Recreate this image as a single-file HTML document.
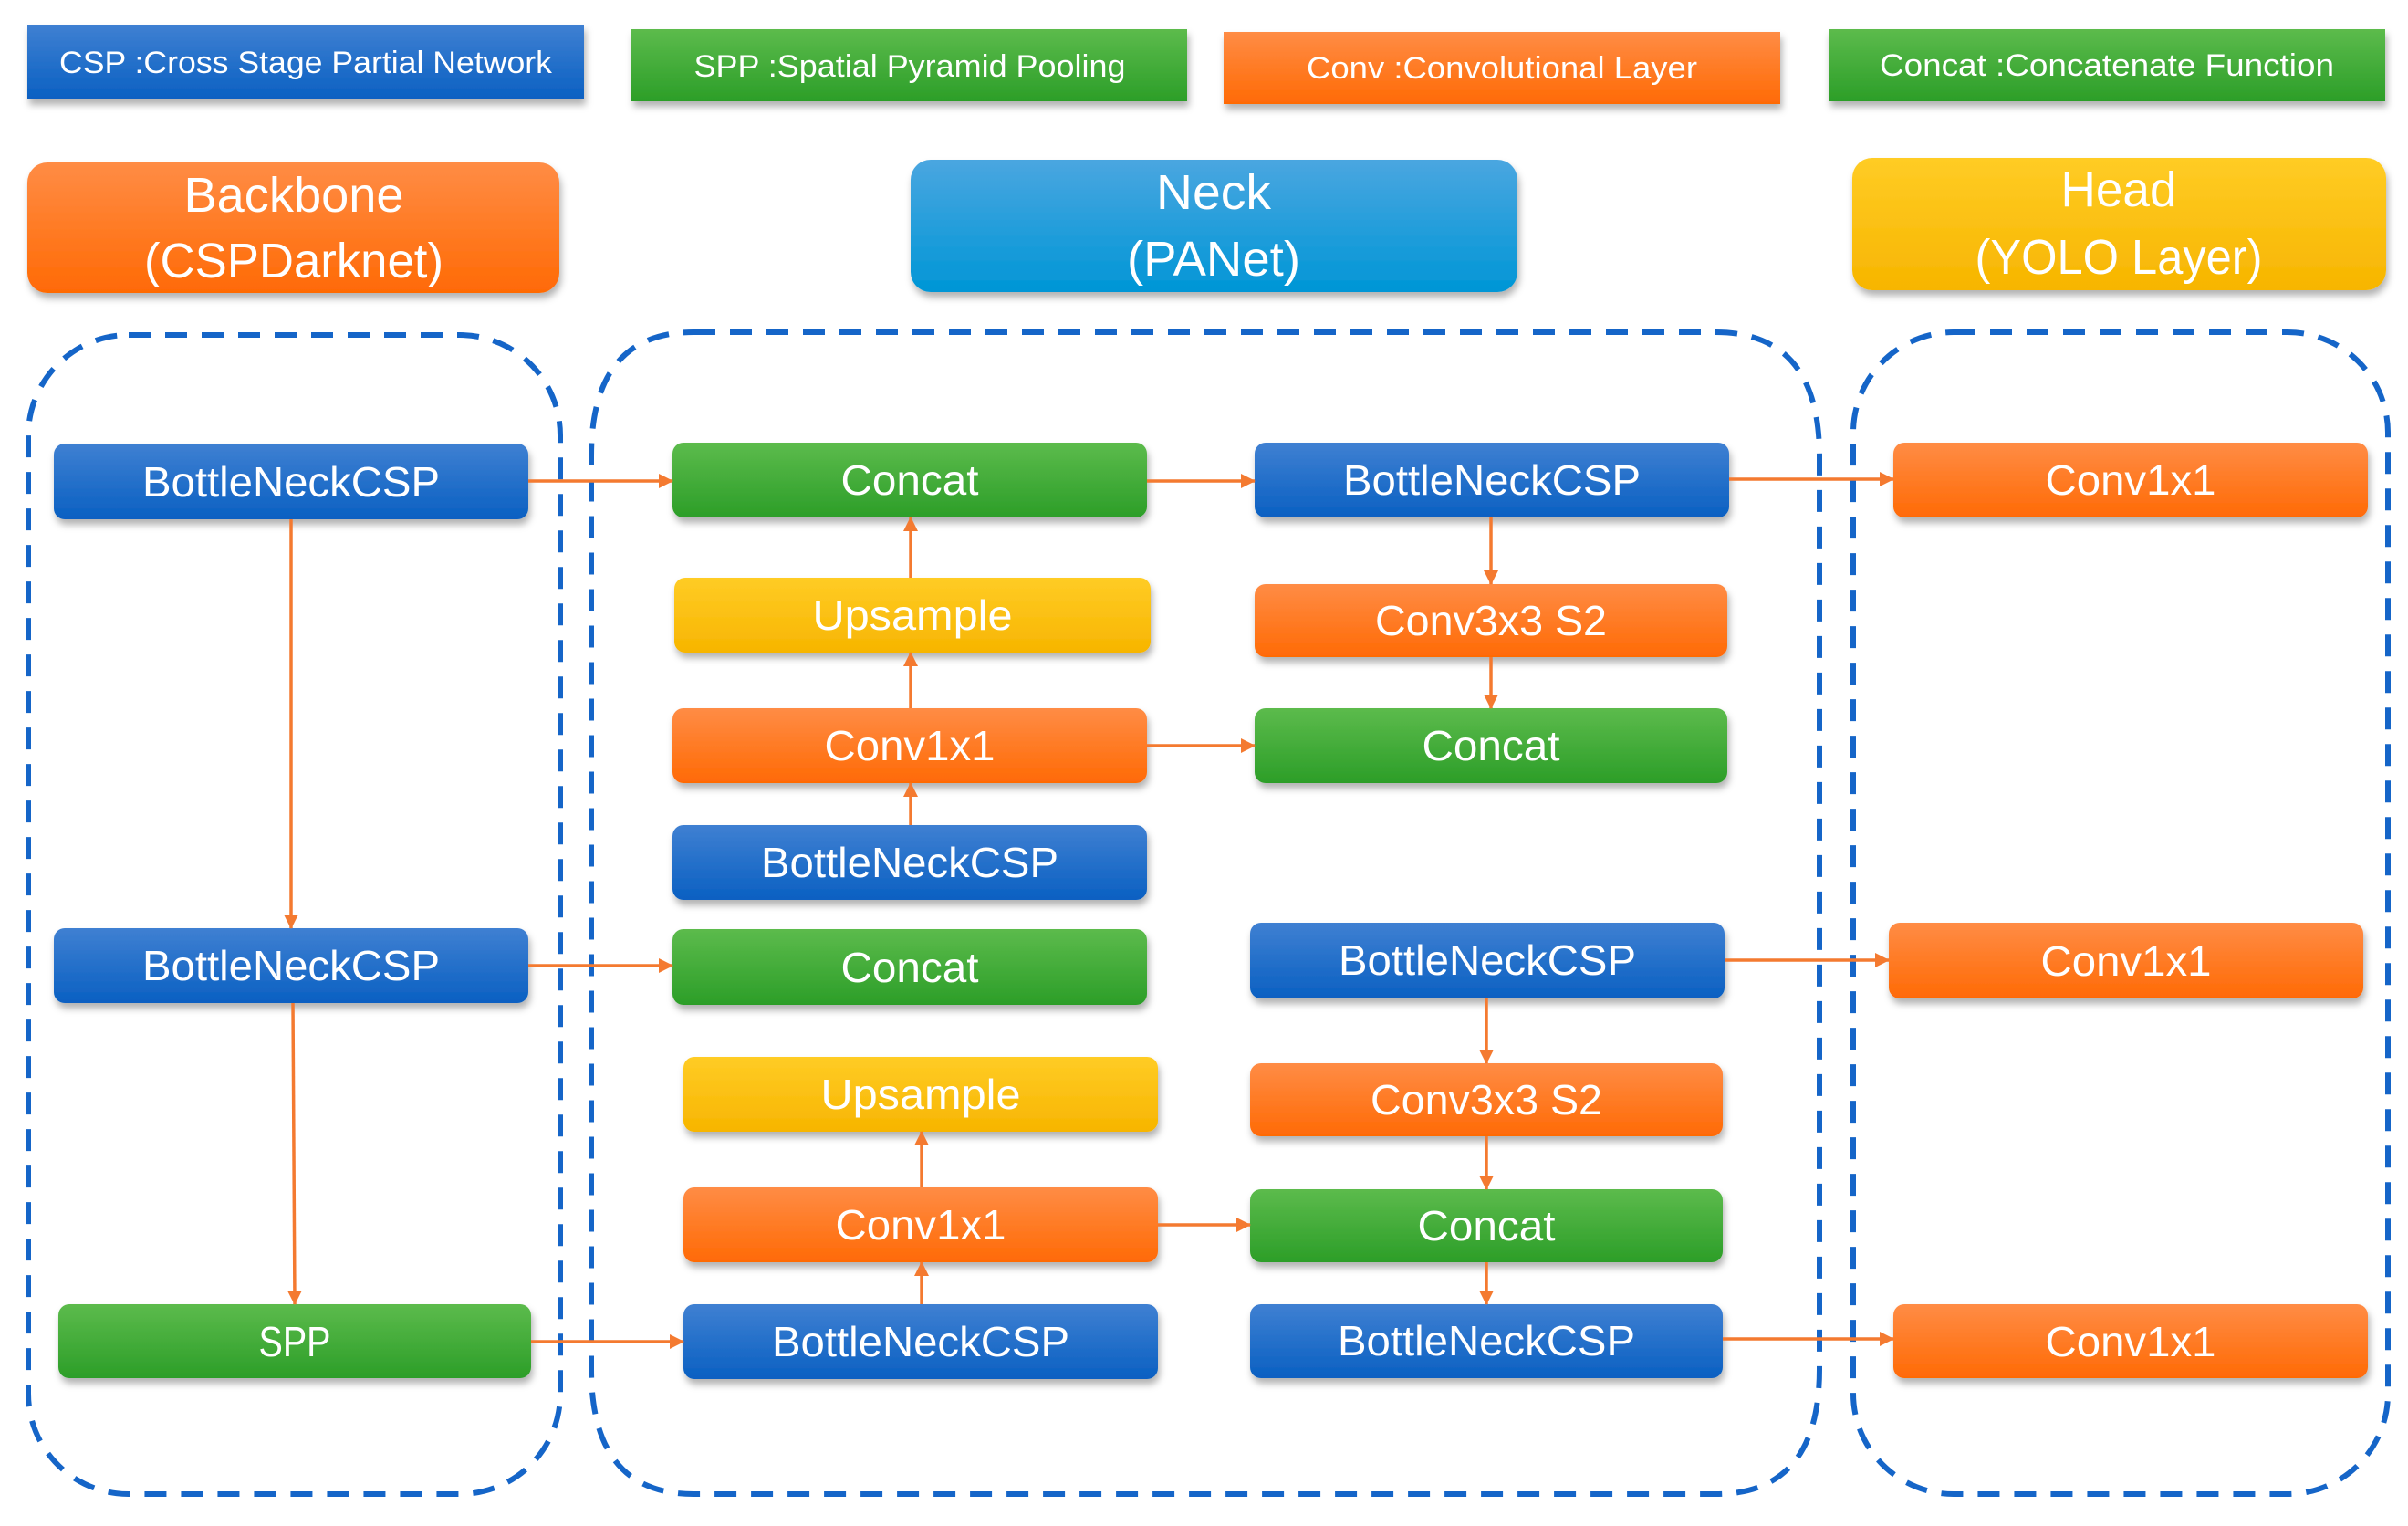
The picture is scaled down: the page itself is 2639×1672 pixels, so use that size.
<!DOCTYPE html>
<html><head><meta charset="utf-8"><style>
html,body{margin:0;padding:0;background:#fff;}
svg{display:block;}
text{font-family:"Liberation Sans",sans-serif;fill:#fff;text-anchor:middle;}
</style></head><body>
<svg width="2639" height="1672" viewBox="0 0 2639 1672" xmlns="http://www.w3.org/2000/svg">
<defs>
<linearGradient id="gb" x1="0" y1="0" x2="0" y2="1"><stop offset="0" stop-color="#3f80d2"/><stop offset="1" stop-color="#0a60c2"/></linearGradient>
<linearGradient id="gg" x1="0" y1="0" x2="0" y2="1"><stop offset="0" stop-color="#5cbb4c"/><stop offset="1" stop-color="#2c9e28"/></linearGradient>
<linearGradient id="go" x1="0" y1="0" x2="0" y2="1"><stop offset="0" stop-color="#ff8c45"/><stop offset="1" stop-color="#ff6a05"/></linearGradient>
<linearGradient id="gy" x1="0" y1="0" x2="0" y2="1"><stop offset="0" stop-color="#ffcc25"/><stop offset="1" stop-color="#f7b500"/></linearGradient>
<linearGradient id="gn" x1="0" y1="0" x2="0" y2="1"><stop offset="0" stop-color="#4aa6e0"/><stop offset="1" stop-color="#0096d6"/></linearGradient>
<filter id="sh" x="-5%" y="-20%" width="110%" height="150%"><feDropShadow dx="2" dy="6" stdDeviation="4" flood-color="#000" flood-opacity="0.3"/></filter>
<marker id="ar" markerWidth="10" markerHeight="10" refX="9" refY="5" orient="auto" markerUnits="userSpaceOnUse"><path d="M0,0 L10,5 L0,10 z" fill="#f47a30"/></marker>
<marker id="ar2" markerWidth="16" markerHeight="16" refX="15" refY="8" orient="auto" markerUnits="userSpaceOnUse"><path d="M0,0 L16,8 L0,16 z" fill="#f47a30"/></marker>
</defs>

<!-- legend -->
<g filter="url(#sh)">
<rect x="30" y="27" width="610" height="82" fill="url(#gb)"/>
<rect x="692" y="32" width="609" height="79" fill="url(#gg)"/>
<rect x="1341" y="35" width="610" height="79" fill="url(#go)"/>
<rect x="2004" y="32" width="610" height="79" fill="url(#gg)"/>
</g>
<g font-size="34">
<text x="335" y="80" textLength="540" lengthAdjust="spacingAndGlyphs">CSP :Cross Stage Partial Network</text>
<text x="997" y="84" textLength="473" lengthAdjust="spacingAndGlyphs">SPP :Spatial Pyramid Pooling</text>
<text x="1646" y="86" textLength="428" lengthAdjust="spacingAndGlyphs">Conv :Convolutional Layer</text>
<text x="2309" y="83" textLength="498" lengthAdjust="spacingAndGlyphs">Concat :Concatenate Function</text>
</g>

<!-- headers -->
<g filter="url(#sh)">
<rect x="30" y="178" width="583" height="143" rx="22" fill="url(#go)"/>
<rect x="998" y="175" width="665" height="145" rx="22" fill="url(#gn)"/>
<rect x="2030" y="173" width="585" height="145" rx="22" fill="url(#gy)"/>
</g>
<g font-size="54">
<text x="322" y="232" textLength="241" lengthAdjust="spacingAndGlyphs">Backbone</text>
<text x="322" y="304" textLength="328" lengthAdjust="spacingAndGlyphs">(CSPDarknet)</text>
<text x="1330" y="229" textLength="126" lengthAdjust="spacingAndGlyphs">Neck</text>
<text x="1330" y="302" textLength="190" lengthAdjust="spacingAndGlyphs">(PANet)</text>
<text x="2322" y="226" textLength="127" lengthAdjust="spacingAndGlyphs">Head</text>
<text x="2322" y="300" textLength="315" lengthAdjust="spacingAndGlyphs">(YOLO Layer)</text>
</g>

<!-- dashed groups -->
<g fill="none" stroke="#1565c8" stroke-width="6" stroke-dasharray="24 16">
<rect x="31" y="367" width="583" height="1270" rx="110"/>
<path d="M760,364 L1880,364 Q1994,364 1994,500 L1994,1500 Q1994,1637 1880,1637 L760,1637 Q648,1637 648,1500 L648,500 Q648,364 760,364 Z"/>
<rect x="2031" y="364" width="586" height="1273" rx="110"/>
</g>

<!-- nodes -->
<g filter="url(#sh)">
<rect x="59" y="486" width="520" height="83" rx="12" fill="url(#gb)"/>
<rect x="59" y="1017" width="520" height="82" rx="12" fill="url(#gb)"/>
<rect x="64" y="1429" width="518" height="81" rx="12" fill="url(#gg)"/>

<rect x="737" y="485" width="520" height="82" rx="12" fill="url(#gg)"/>
<rect x="739" y="633" width="522" height="82" rx="12" fill="url(#gy)"/>
<rect x="737" y="776" width="520" height="82" rx="12" fill="url(#go)"/>
<rect x="737" y="904" width="520" height="82" rx="12" fill="url(#gb)"/>
<rect x="737" y="1018" width="520" height="83" rx="12" fill="url(#gg)"/>
<rect x="749" y="1158" width="520" height="82" rx="12" fill="url(#gy)"/>
<rect x="749" y="1301" width="520" height="82" rx="12" fill="url(#go)"/>
<rect x="749" y="1429" width="520" height="82" rx="12" fill="url(#gb)"/>

<rect x="1375" y="485" width="520" height="82" rx="12" fill="url(#gb)"/>
<rect x="1375" y="640" width="518" height="80" rx="12" fill="url(#go)"/>
<rect x="1375" y="776" width="518" height="82" rx="12" fill="url(#gg)"/>
<rect x="1370" y="1011" width="520" height="83" rx="12" fill="url(#gb)"/>
<rect x="1370" y="1165" width="518" height="80" rx="12" fill="url(#go)"/>
<rect x="1370" y="1303" width="518" height="80" rx="12" fill="url(#gg)"/>
<rect x="1370" y="1429" width="518" height="81" rx="12" fill="url(#gb)"/>

<rect x="2075" y="485" width="520" height="82" rx="12" fill="url(#go)"/>
<rect x="2070" y="1011" width="520" height="83" rx="12" fill="url(#go)"/>
<rect x="2075" y="1429" width="520" height="81" rx="12" fill="url(#go)"/>
</g>

<g font-size="46">
<text x="319" y="544" textLength="326" lengthAdjust="spacingAndGlyphs">BottleNeckCSP</text>
<text x="319" y="1074" textLength="326" lengthAdjust="spacingAndGlyphs">BottleNeckCSP</text>
<text x="323" y="1486" textLength="79" lengthAdjust="spacingAndGlyphs">SPP</text>

<text x="997" y="542" textLength="151" lengthAdjust="spacingAndGlyphs">Concat</text>
<text x="1000" y="690" textLength="219" lengthAdjust="spacingAndGlyphs">Upsample</text>
<text x="997" y="833" textLength="187" lengthAdjust="spacingAndGlyphs">Conv1x1</text>
<text x="997" y="961" textLength="326" lengthAdjust="spacingAndGlyphs">BottleNeckCSP</text>
<text x="997" y="1076" textLength="151" lengthAdjust="spacingAndGlyphs">Concat</text>
<text x="1009" y="1215" textLength="219" lengthAdjust="spacingAndGlyphs">Upsample</text>
<text x="1009" y="1358" textLength="187" lengthAdjust="spacingAndGlyphs">Conv1x1</text>
<text x="1009" y="1486" textLength="326" lengthAdjust="spacingAndGlyphs">BottleNeckCSP</text>

<text x="1635" y="542" textLength="326" lengthAdjust="spacingAndGlyphs">BottleNeckCSP</text>
<text x="1634" y="696" textLength="254" lengthAdjust="spacingAndGlyphs">Conv3x3 S2</text>
<text x="1634" y="833" textLength="151" lengthAdjust="spacingAndGlyphs">Concat</text>
<text x="1630" y="1068" textLength="326" lengthAdjust="spacingAndGlyphs">BottleNeckCSP</text>
<text x="1629" y="1221" textLength="254" lengthAdjust="spacingAndGlyphs">Conv3x3 S2</text>
<text x="1629" y="1359" textLength="151" lengthAdjust="spacingAndGlyphs">Concat</text>
<text x="1629" y="1485" textLength="326" lengthAdjust="spacingAndGlyphs">BottleNeckCSP</text>

<text x="2335" y="542" textLength="187" lengthAdjust="spacingAndGlyphs">Conv1x1</text>
<text x="2330" y="1069" textLength="187" lengthAdjust="spacingAndGlyphs">Conv1x1</text>
<text x="2335" y="1486" textLength="187" lengthAdjust="spacingAndGlyphs">Conv1x1</text>
</g>

<!-- arrows -->
<g stroke="#f47a30" stroke-width="3.5" fill="none" marker-end="url(#ar2)">
<line x1="579" y1="527" x2="737" y2="527"/>
<line x1="1257" y1="527" x2="1375" y2="527"/>
<line x1="1895" y1="525" x2="2075" y2="525"/>
<line x1="1634" y1="567" x2="1634" y2="640"/>
<line x1="1634" y1="720" x2="1634" y2="776"/>
<line x1="1257" y1="817" x2="1375" y2="817"/>
<line x1="998" y1="904" x2="998" y2="858"/>
<line x1="998" y1="776" x2="998" y2="715"/>
<line x1="998" y1="633" x2="998" y2="567"/>
<line x1="319" y1="569" x2="319" y2="1017"/>
<line x1="321" y1="1099" x2="323" y2="1429"/>
<line x1="579" y1="1058" x2="737" y2="1058"/>
<line x1="582" y1="1470" x2="749" y2="1470"/>
<line x1="1010" y1="1429" x2="1010" y2="1383"/>
<line x1="1010" y1="1301" x2="1010" y2="1240"/>
<line x1="1269" y1="1342" x2="1370" y2="1342"/>
<line x1="1629" y1="1094" x2="1629" y2="1165"/>
<line x1="1629" y1="1245" x2="1629" y2="1303"/>
<line x1="1629" y1="1383" x2="1629" y2="1429"/>
<line x1="1890" y1="1052" x2="2070" y2="1052"/>
<line x1="1888" y1="1467" x2="2075" y2="1467"/>
</g>
</svg>
</body></html>
